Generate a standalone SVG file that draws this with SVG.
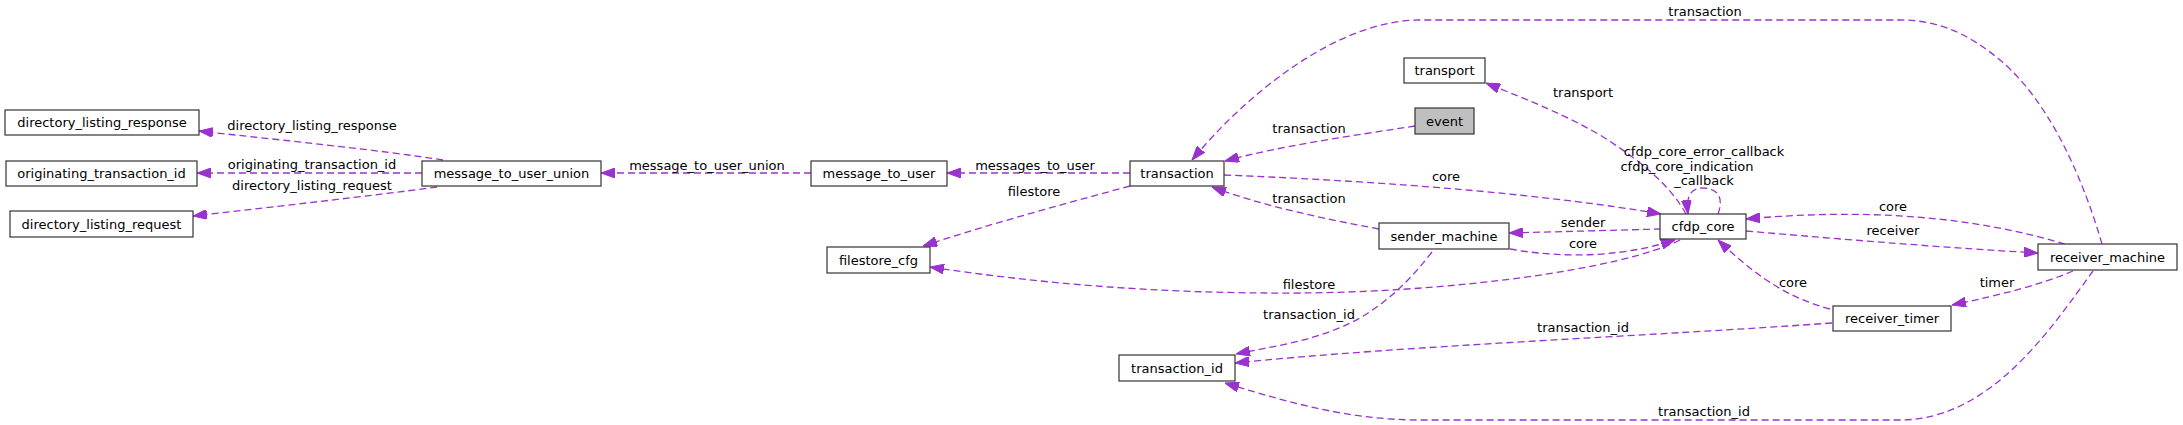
<svg xmlns="http://www.w3.org/2000/svg" width="2183" height="425" viewBox="0 0 2183 425">
<style>
text{font-family:"DejaVu Sans","Liberation Sans",sans-serif;font-size:13px;fill:#000;text-anchor:middle}
.n rect{fill:#fff;stroke:#333;stroke-width:1.2}
.n.g rect{fill:#bfbfbf}
.e path{fill:none;stroke:#9a32cd;stroke-width:1.3;stroke-dasharray:7,4;marker-end:url(#ah)}
</style>
<defs>
<marker id="ah" markerUnits="userSpaceOnUse" markerWidth="14" markerHeight="10" refX="14" refY="5" orient="auto" viewBox="0 0 14 10">
<path d="M0,0 L14,5 L0,10 z" fill="#9a32cd" stroke="#9a32cd" stroke-width="1"/>
</marker>
</defs>
<rect width="2183" height="425" fill="#fff"/>
<g id="edges" class="e">
<path d="M443,160 C380,150 280,140 199,131"/>
<path d="M422,173 L197,173"/>
<path d="M437,187 C370,196 280,206 193,216"/>
<path d="M811,173 L601,173"/>
<path d="M1130,173 L947,173"/>
<path d="M1130,186 C1060,205 990,224 923,246"/>
<path d="M1415,126 C1350,136 1280,146 1225,161"/>
<path d="M2102,244 C2082,175 2048,100 2000,60 C1970,35 1940,20 1900,20 L1420,20 C1340,20 1250,90 1192,160"/>
<path d="M1224,175 C1400,182 1550,195 1661,214"/>
<path d="M1379,229 C1320,218 1260,205 1212,187"/>
<path d="M1686,214 C1670,185 1640,160 1600,135 C1560,112 1520,97 1486,83"/>
<path d="M1718,214 C1725,195 1715,188 1703,188 C1690,188 1686,197 1688,214"/>
<path d="M1661,229 L1509,233"/>
<path d="M1510,249 C1560,258 1620,258 1675,240"/>
<path d="M1680,240 C1620,270 1450,292 1300,293 C1150,294 1030,282 930,267"/>
<path d="M1432,252 C1410,280 1390,300 1360,318 C1320,340 1280,345 1236,354"/>
<path d="M1832,323 C1650,336 1400,346 1235,363"/>
<path d="M2093,271 C2050,330 1990,420 1900,420 L1420,420 C1350,420 1290,403 1225,383"/>
<path d="M2065,244 C2000,225 1900,205 1746,219"/>
<path d="M1746,231 C1850,240 1950,248 2038,253"/>
<path d="M2073,271 C2040,285 2000,295 1952,305"/>
<path d="M1830,309 C1790,298 1760,280 1718,240"/>
</g>
<g id="edge-labels">
<text x="312" y="129.5">directory_listing_response</text>
<text x="312" y="168.5">originating_transaction_id</text>
<text x="312" y="189.5">directory_listing_request</text>
<text x="707" y="169.5">message_to_user_union</text>
<text x="1035" y="169.5">messages_to_user</text>
<text x="1034" y="196">filestore</text>
<text x="1309" y="133">transaction</text>
<text x="1705" y="16">transaction</text>
<text x="1446" y="181">core</text>
<text x="1309" y="202.5">transaction</text>
<text x="1583" y="97">transport</text>
<text x="1704" y="156">cfdp_core_error_callback</text>
<text x="1687" y="170.5">cfdp_core_indication</text>
<text x="1704" y="185">_callback</text>
<text x="1583" y="227">sender</text>
<text x="1583" y="248">core</text>
<text x="1309" y="289">filestore</text>
<text x="1309" y="319">transaction_id</text>
<text x="1583" y="332">transaction_id</text>
<text x="1704" y="415.5">transaction_id</text>
<text x="1893" y="211">core</text>
<text x="1893" y="235">receiver</text>
<text x="1997" y="287">timer</text>
<text x="1793" y="287">core</text>
</g>
<g id="directory_listing_response" class="n"><rect x="5" y="110" width="194" height="25"/><text x="102" y="127">directory_listing_response</text></g>
<g id="originating_transaction_id" class="n"><rect x="6" y="161" width="191" height="25"/><text x="101.5" y="178">originating_transaction_id</text></g>
<g id="directory_listing_request" class="n"><rect x="10" y="211" width="183" height="26"/><text x="101.5" y="228.5">directory_listing_request</text></g>
<g id="message_to_user_union" class="n"><rect x="422" y="161" width="179" height="25"/><text x="511.5" y="178">message_to_user_union</text></g>
<g id="message_to_user" class="n"><rect x="811" y="161" width="136" height="25"/><text x="879" y="178">message_to_user</text></g>
<g id="transaction" class="n"><rect x="1130" y="161" width="94" height="25"/><text x="1177" y="178">transaction</text></g>
<g id="filestore_cfg" class="n"><rect x="827" y="247" width="103" height="26"/><text x="878.5" y="264.5">filestore_cfg</text></g>
<g id="event" class="n g"><rect x="1415" y="108" width="59" height="26"/><text x="1444.5" y="125.5">event</text></g>
<g id="transport" class="n"><rect x="1404" y="58" width="81" height="25"/><text x="1444.5" y="75">transport</text></g>
<g id="cfdp_core" class="n"><rect x="1660" y="214" width="86" height="25"/><text x="1703" y="231">cfdp_core</text></g>
<g id="sender_machine" class="n"><rect x="1379" y="223" width="130" height="26"/><text x="1444" y="240.5">sender_machine</text></g>
<g id="receiver_machine" class="n"><rect x="2038" y="244" width="139" height="26"/><text x="2107.5" y="261.5">receiver_machine</text></g>
<g id="receiver_timer" class="n"><rect x="1833" y="306" width="118" height="25"/><text x="1892" y="323">receiver_timer</text></g>
<g id="transaction_id" class="n"><rect x="1119" y="355" width="116" height="26"/><text x="1177" y="372.5">transaction_id</text></g>
</svg>
